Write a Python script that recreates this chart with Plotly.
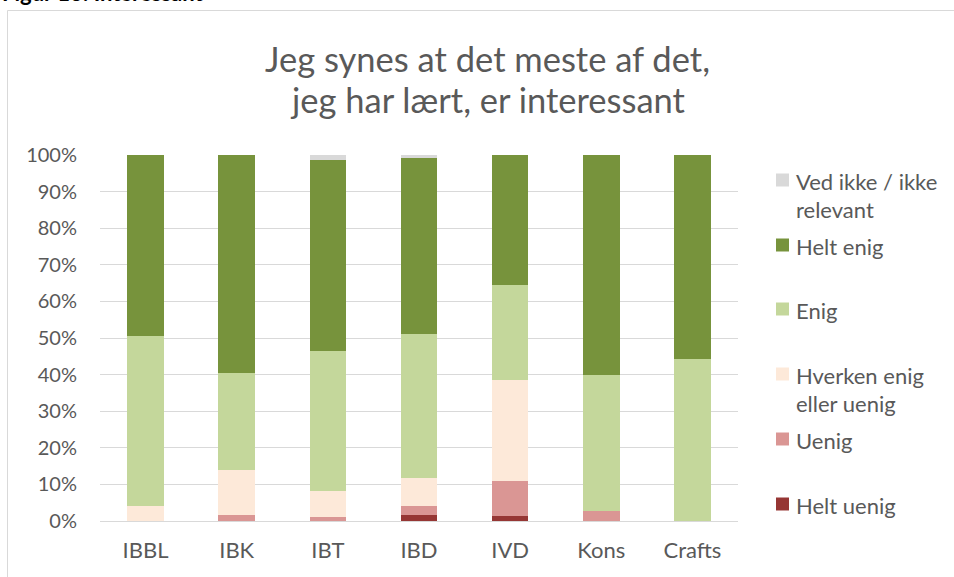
import plotly.graph_objects as go

categories = ["IBBL", "IBK", "IBT", "IBD", "IVD", "Kons", "Crafts"]
helt_uenig = [0, 0, 0, 1.6, 1.4, 0, 0]
uenig = [0, 1.6, 1.0, 2.5, 9.6, 2.6, 0]
hverken = [4.2, 12.3, 7.2, 7.6, 27.5, 0, 0]
enig = [46.3, 26.5, 38.2, 39.3, 26.0, 37.4, 44.4]
helt_enig = [49.5, 59.6, 52.2, 48.3, 35.5, 60.0, 55.6]
ved_ikke = [0, 0, 1.4, 0.7, 0, 0, 0]
y_ticks = [0, 10, 20, 30, 40, 50, 60, 70, 80, 90, 100]
y_tick_labels = ["0%", "10%", "20%", "30%", "40%", "50%", "60%", "70%", "80%", "90%", "100%"]

series = [
    ("Helt uenig", helt_uenig, "#963634"),
    ("Uenig", uenig, "#DA9694"),
    ("Hverken enig eller uenig", hverken, "#FDE9D9"),
    ("Enig", enig, "#C4D79B"),
    ("Helt enig", helt_enig, "#77933C"),
    ("Ved ikke / ikke relevant", ved_ikke, "#D9D9D9"),
]

W, H = 954, 577
L, R, T, B = 100, 738, 155, 521
FONT = "Lato"
GREY = "#595959"
FS = 22

def px(x):
    return (x - L) / (R - L)

def py(y):
    return (B - y) / (B - T)

fig = go.Figure()
for name, vals, col in series:
    fig.add_trace(go.Bar(x=categories, y=vals, name=name, marker_color=col,
                         marker_line_width=0, showlegend=False))

annotations = [
    dict(text="Jeg synes at det meste af det,", x=px(488), y=py(58)),
    dict(text="jeg har lært, er interessant", x=px(488), y=py(100)),
]
for a in annotations:
    a.update(xref="paper", yref="paper", xanchor="center", yanchor="middle",
             showarrow=False, font=dict(family=FONT, size=34.5, color=GREY))

legend_items = [
    ("#D9D9D9", ["Ved ikke / ikke", "relevant"], 180),
    ("#77933C", ["Helt enig"], 245),
    ("#C4D79B", ["Enig"], 309),
    ("#FDE9D9", ["Hverken enig", "eller uenig"], 374),
    ("#DA9694", ["Uenig"], 439),
    ("#963634", ["Helt uenig"], 504),
]
shapes = []
for col, lines, cy in legend_items:
    shapes.append(dict(type="rect", xref="paper", yref="paper",
                       x0=px(776), x1=px(789), y0=py(cy + 6.5), y1=py(cy - 6.5),
                       fillcolor=col, line_width=0))
    for i, t in enumerate(lines):
        annotations.append(dict(text=t, xref="paper", yref="paper", x=px(794),
                                y=py(cy + 1 + 28 * i), xanchor="left", yanchor="middle",
                                showarrow=False, font=dict(family=FONT, size=FS, color=GREY)))

annotations.append(dict(text="<b>Figur 13: Interessant</b>", xref="paper", yref="paper",
                        x=px(0), y=py(8), xanchor="left", yanchor="bottom", showarrow=False,
                        font=dict(family=FONT, size=22, color="#000000")))

shapes.append(dict(type="rect", xref="paper", yref="paper", x0=px(7.5), x1=px(1000),
                   y0=py(700), y1=py(10.5), line=dict(color="#D9D9D9", width=1),
                   fillcolor="rgba(0,0,0,0)", layer="below"))

fig.update_layout(
    barmode="stack", bargap=0.6,
    width=W, height=H,
    margin=dict(l=L, r=W - R, t=T, b=H - B, pad=0),
    paper_bgcolor="white", plot_bgcolor="white",
    font=dict(family=FONT, size=FS, color=GREY),
    annotations=annotations, shapes=shapes,
    xaxis=dict(showline=False, showgrid=False, ticks="", ticklabelstandoff=14,
               tickfont=dict(family=FONT, size=FS, color=GREY)),
    yaxis=dict(range=[0, 100], tickvals=y_ticks, ticktext=y_tick_labels, showgrid=True,
               gridcolor="#D9D9D9", gridwidth=1.3, zeroline=True, zerolinecolor="#D9D9D9",
               zerolinewidth=1.3, showline=False, ticks="", ticklabelstandoff=22,
               tickfont=dict(family=FONT, size=20, color=GREY)),
)

fig.write_html("out.html", config={"displayModeBar": False},
               post_script="document.body.style.margin='0';document.body.style.padding='0';")
